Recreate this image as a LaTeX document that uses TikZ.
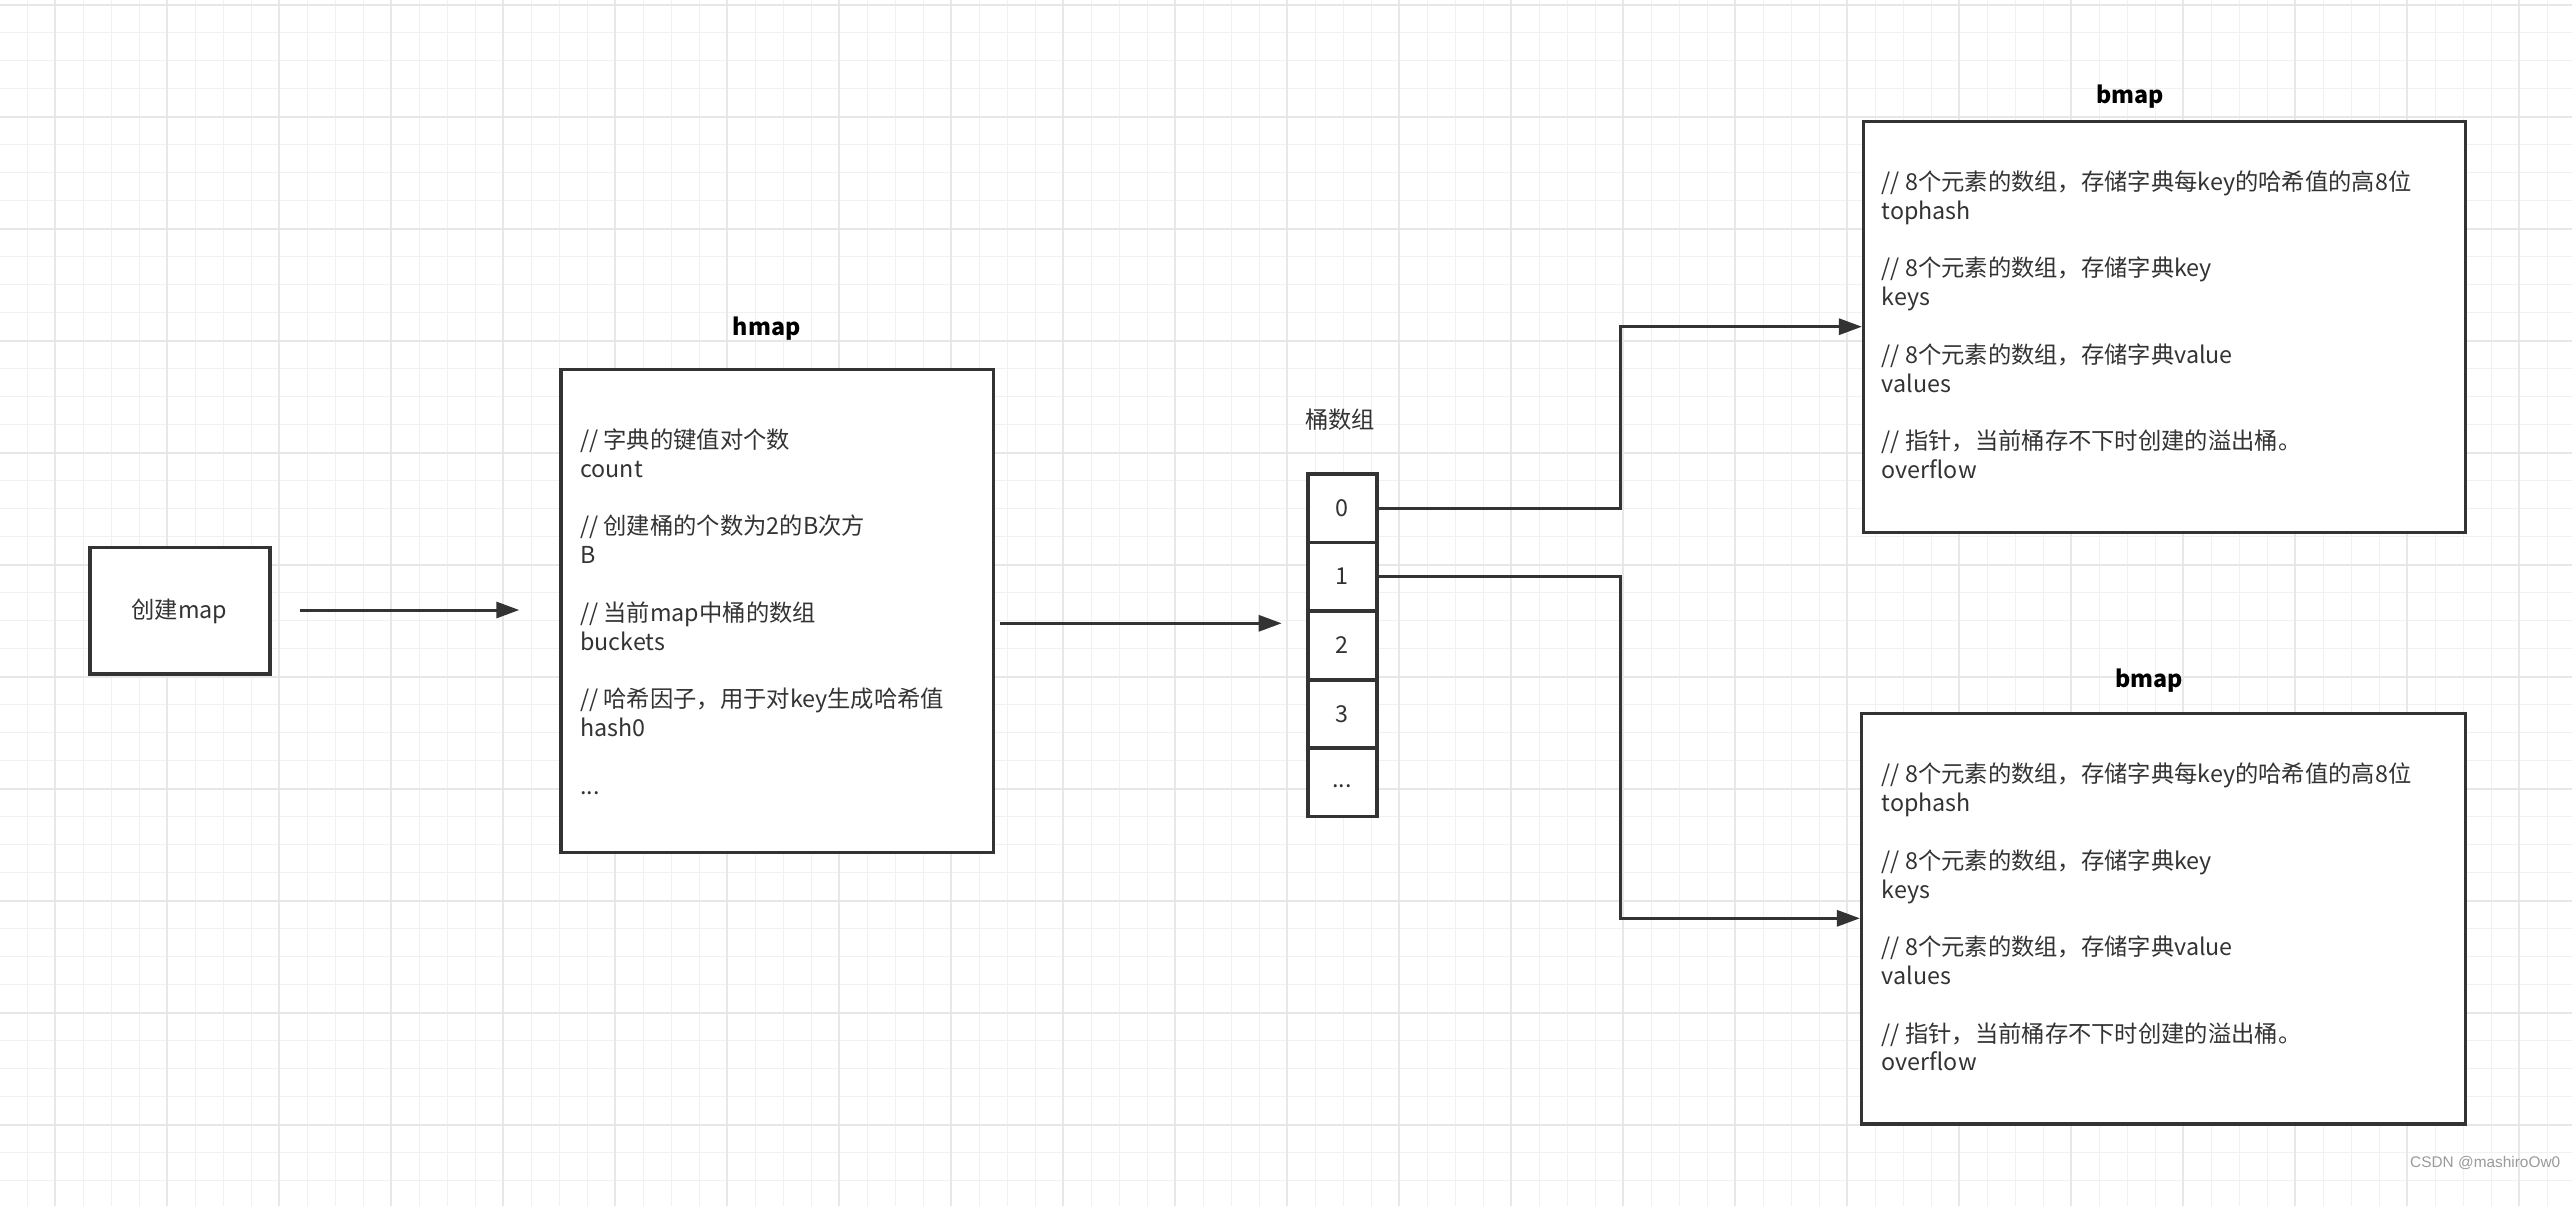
\documentclass[tikz,border=0pt]{standalone}
\usepackage{fontspec}
\setmainfont{Noto Sans CJK SC}
\newfontfamily\wmfont{Liberation Sans}
\usetikzlibrary{arrows.meta}
\definecolor{ink}{HTML}{333333}
\definecolor{gridminor}{HTML}{F1F1F1}
\definecolor{gridmajor}{HTML}{E7E7E7}
\definecolor{wmgray}{HTML}{9A9A9A}
\begin{document}
\begin{tikzpicture}[x=1pt,y=-1pt,
  box/.style={rectangle, draw=ink, line width=3.3pt, fill=white, inner sep=0pt},
  conn/.style={draw=ink, line width=3pt, -{Triangle[length=23pt,width=16pt]}},
  txt/.style={inner sep=0pt, text=ink, font=\fontsize{23.3}{28.8}\selectfont},
  ttl/.style={inner sep=0pt, text=black, font=\fontsize{23.3}{28.8}\selectfont\bfseries},
  cellbox/.style={box, line width=3.6pt, minimum width=69pt, minimum height=68.4pt}]
\useasboundingbox (0,0) rectangle (2572,1206);
\fill[white] (0,0) rectangle (2572,1206);
% grid
\foreach \k in {0,...,92}{\pgfmathsetmacro\xx{-0.7+28*\k}
  \draw[gridminor, line width=1.4pt] (\xx,0) -- (\xx,1206);}
\foreach \k in {0,...,43}{\pgfmathsetmacro\yy{4.7+28*\k}
  \draw[gridminor, line width=1.4pt] (0,\yy) -- (2572,\yy);}
\foreach \k in {2,6,...,90}{\pgfmathsetmacro\xx{-0.7+28*\k}
  \draw[gridmajor, line width=1.8pt] (\xx,0) -- (\xx,1206);}
\foreach \k in {0,4,...,40}{\pgfmathsetmacro\yy{4.7+28*\k}
  \draw[gridmajor, line width=1.8pt] (0,\yy) -- (2572,\yy);}

% create map box
\node[box, minimum width=180pt, minimum height=126.7pt] (create) at (180,610.65) {};
\node[txt] (createtxt) at (179.3,611.7) {创建map};

% hmap
\node[ttl, anchor=base] (hmaptitle) at (766.7,335.9) {hmap};
\node[box, minimum width=432.3pt, minimum height=483.1pt] (hmap) at (777.15,610.75) {};
\node[txt, anchor=base west] (hmaptxt) at (580,448.5) {\parbox[t]{420pt}{\raggedright
// 字典的键值对个数\\
count\\
\mbox{}\\
// 创建桶的个数为2的B次方\\
B\\
\mbox{}\\
// 当前map中桶的数组\\
buckets\\
\mbox{}\\
// 哈希因子，用于对key生成哈希值\\
hash0\\
\mbox{}\\
...}};

% bucket array
\node[txt] (buckettitle) at (1340,420) {桶数组};
\node[cellbox] (cell0) at (1342.2,508.15) {};
\node[cellbox] (cell1) at (1342.2,576.5) {};
\node[cellbox] (cell2) at (1342.2,645.35) {};
\node[cellbox] (cell3) at (1342.2,714.15) {};
\node[cellbox] (cell4) at (1342.2,782.15) {};
\node[txt] (c0t) at (cell0.center) {0};
\node[txt] (c1t) at (cell1.center) {1};
\node[txt] (c2t) at (cell2.center) {2};
\node[txt] (c3t) at (cell3.center) {3};
\node[txt] (c4t) at (1342.2,786) {...};

% bmap 1
\node[ttl, anchor=base] (bmap1title) at (2130.2,103.3) {bmap};
\node[box, minimum width=601.6pt, minimum height=411pt] (bmap1) at (2164.4,327.2) {};
\node[txt, anchor=base west] (bmap1txt) at (1881.5,190.5) {\parbox[t]{570pt}{\raggedright
// 8个元素的数组，存储字典每key的哈希值的高8位\\
tophash\\
\mbox{}\\
// 8个元素的数组，存储字典key\\
keys\\
\mbox{}\\
// 8个元素的数组，存储字典value\\
values\\
\mbox{}\\
// 指针，当前桶存不下时创建的溢出桶。\\
overflow}};

% bmap 2
\node[ttl, anchor=base] (bmap2title) at (2148.9,687.3) {bmap};
\node[box, minimum width=603.6pt, minimum height=410.7pt] (bmap2) at (2163.4,918.65) {};
\node[txt, anchor=base west] (bmap2txt) at (1881.5,782.9) {\parbox[t]{570pt}{\raggedright
// 8个元素的数组，存储字典每key的哈希值的高8位\\
tophash\\
\mbox{}\\
// 8个元素的数组，存储字典key\\
keys\\
\mbox{}\\
// 8个元素的数组，存储字典value\\
values\\
\mbox{}\\
// 指针，当前桶存不下时创建的溢出桶。\\
overflow}};

% connectors
\coordinate (a1s) at (300,610);
\coordinate (a1e) at (519.3,610);
\coordinate (a2s) at (1000,623.3);
\coordinate (a2e) at (1281.7,623.3);
\coordinate (bend) at (1620,0);
\coordinate (in1) at (0,326.7);
\coordinate (in2) at (0,918.3);
\draw[conn] (a1s) -- (a1e);
\draw[conn] (a2s) -- (a2e);
\draw[conn] (cell0.east) -- (cell0.east -| bend) |- (bmap1.west |- in1);
\draw[conn] (cell1.east) -- (cell1.east -| bend) |- (bmap2.west |- in2);

% watermark
\node[anchor=west, inner sep=0pt, text=wmgray, font=\wmfont\fontsize{15.4}{18}\selectfont] (wm) at (2410,1163.3) {CSDN @mashiroOw0};
\end{tikzpicture}
\end{document}
